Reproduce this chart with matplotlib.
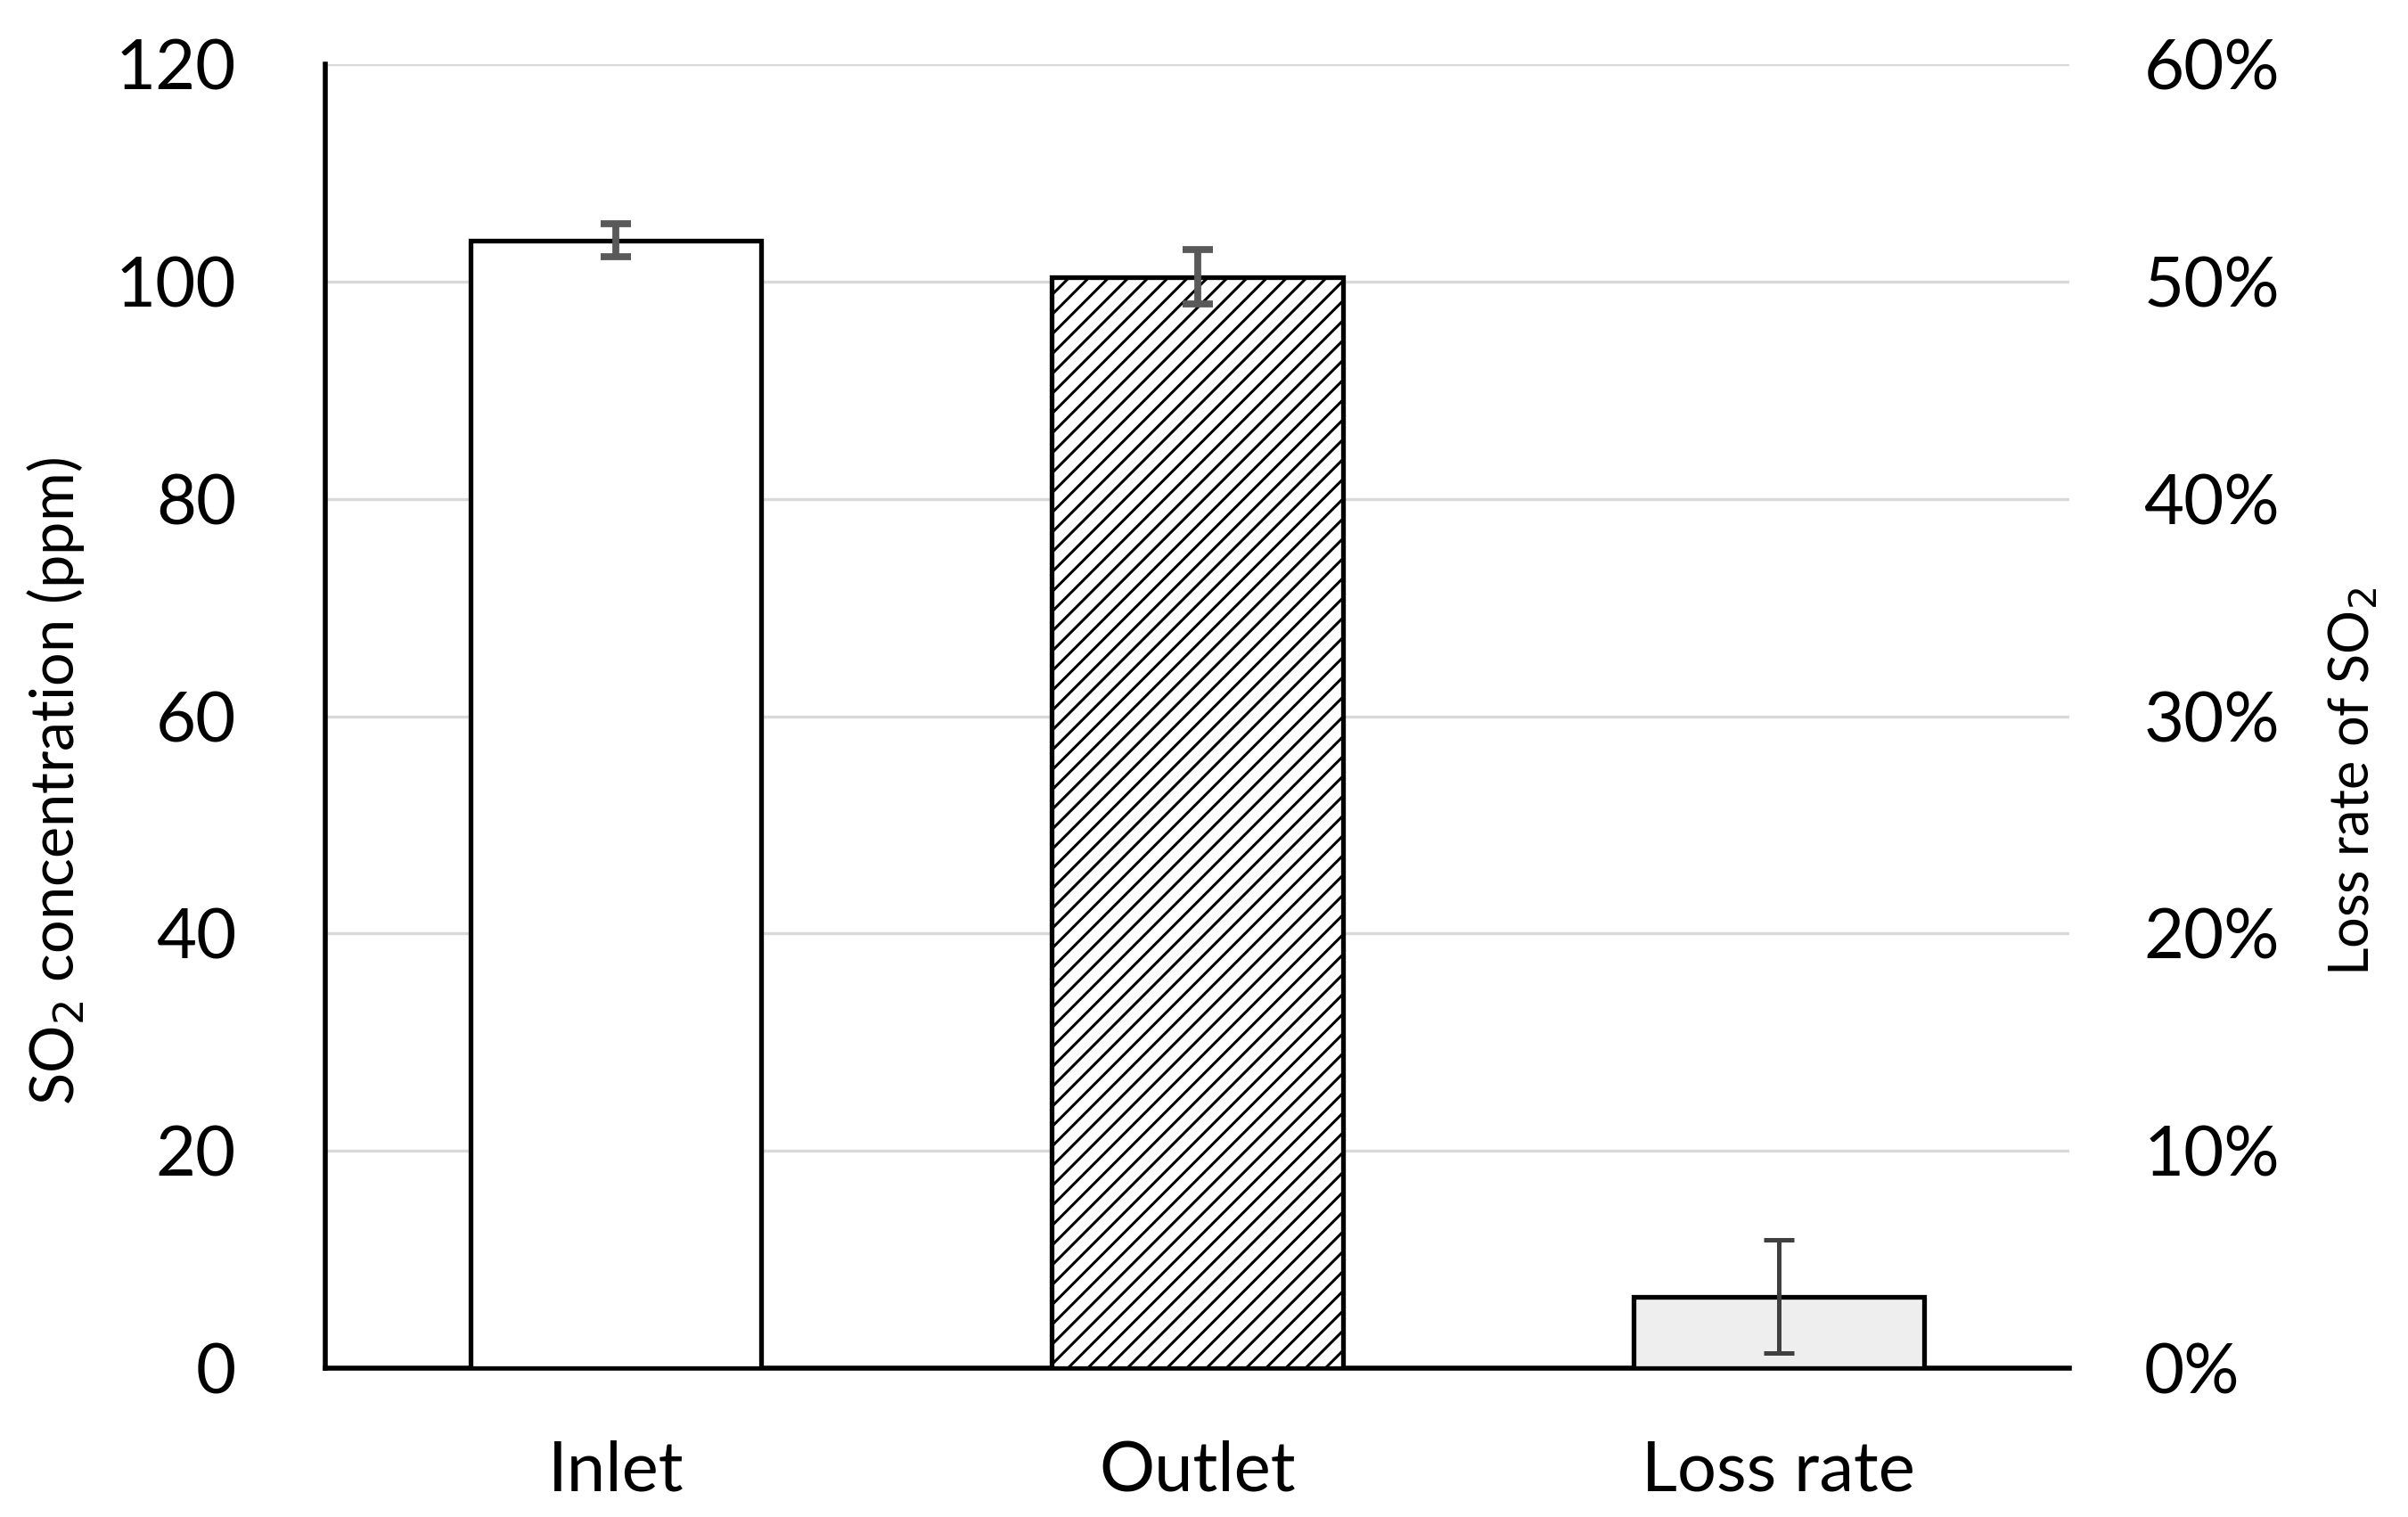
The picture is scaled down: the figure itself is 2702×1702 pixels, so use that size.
import numpy as np
import matplotlib
matplotlib.use("Agg")
import matplotlib.pyplot as plt
from matplotlib.ticker import PercentFormatter

plt.rcParams['font.family'] = ['Lato', 'DejaVu Sans']
plt.rcParams['hatch.linewidth'] = 1.1
plt.rcParams['hatch.color'] = 'black'

categories = ['Inlet', 'Outlet', 'Loss rate']
conc_values = [103.8, 100.4]      # ppm
conc_errors = [1.5, 2.5]
loss_value = [0.033]              # fraction
loss_error = [0.026]

fig = plt.figure(figsize=(13.51, 8.51), dpi=200)
ax = fig.add_axes([0.1351, 0.0981, 0.8594 - 0.1351, 0.9577 - 0.0981])
ax2 = ax.twinx()

x = np.arange(len(categories))

ax.bar(x[0], conc_values[0], width=0.5, facecolor='white', edgecolor='black',
       linewidth=1.9, zorder=3)
ax.bar(x[1], conc_values[1], width=0.5, facecolor='white', edgecolor='black',
       linewidth=1.9, hatch='///', zorder=3)
ax.errorbar(x[:2], conc_values, yerr=conc_errors, fmt='none', ecolor='#595959',
            elinewidth=2.8, capsize=6, capthick=2.8, zorder=4)

ax2.bar(x[2], loss_value[0], width=0.5, facecolor='#eeeeee', edgecolor='black',
        linewidth=1.9, zorder=3)
ax2.errorbar(x[2:], loss_value, yerr=loss_error, fmt='none', ecolor='#404040',
             elinewidth=1.8, capsize=6, capthick=1.8, zorder=4)

ax.set_xlim(-0.5, 2.5)
ax.set_ylim(0, 120)
ax.set_yticks(np.arange(0, 121, 20))
ax2.set_ylim(0, 0.6)
ax2.set_yticks(np.arange(0, 0.61, 0.1))
ax2.yaxis.set_major_formatter(PercentFormatter(1.0, decimals=0))

ax.set_xticks(x)
ax.set_xticklabels(categories)
ax.grid(axis='y', color='#d9d9d9', linewidth=1.2, zorder=0)
ax.set_axisbelow(True)

for s in ['top', 'right']:
    ax.spines[s].set_visible(False)
for s in ['top', 'right', 'left', 'bottom']:
    ax2.spines[s].set_visible(False)
ax.spines['left'].set_linewidth(2.0)
ax.spines['bottom'].set_linewidth(2.0)

ax.tick_params(axis='both', length=0, labelsize=28, colors='black')
ax.tick_params(axis='y', pad=36)
ax.tick_params(axis='x', pad=29)
ax2.tick_params(axis='y', length=0, labelsize=28, pad=30)

ax.set_ylabel('SO$_2$ concentration (ppm)', fontsize=24)
ax.yaxis.set_label_coords(-0.137, 0.45)
ax2.set_ylabel('Loss rate of SO$_2$', fontsize=22, rotation=90)
ax2.yaxis.set_label_coords(1.147, 0.45)

plt.savefig('out.png', dpi=200)
